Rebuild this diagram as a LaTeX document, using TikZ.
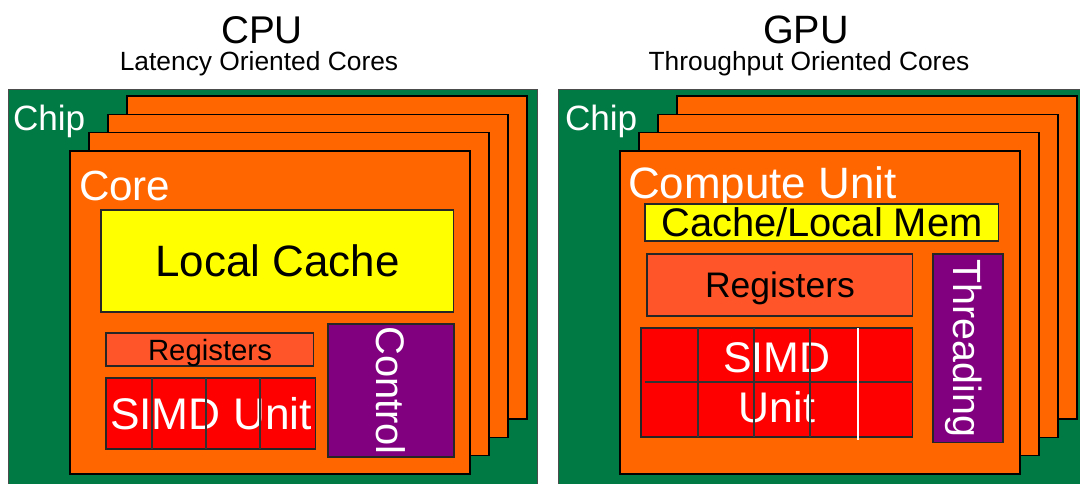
\documentclass[tikz,border=0pt]{standalone}
\usepackage{fontspec}
\setmainfont{Liberation Sans}
\usetikzlibrary{positioning}
\definecolor{chipgreen}{HTML}{007A45}
\definecolor{coreorange}{HTML}{FF6600}
\definecolor{cacheyellow}{HTML}{FFFF00}
\definecolor{regorange}{HTML}{FF5529}
\definecolor{simdred}{HTML}{FF0000}
\definecolor{ctrlpurple}{HTML}{800080}
\newcommand{\setfs}[1]{\fontsize{#1}{#1}\selectfont}

\begin{document}
\begin{tikzpicture}[x=0.02cm,y=-0.02cm,
      every node/.style={inner sep=0pt,outer sep=0pt},
      chipbox/.style={draw=gray!60!black,fill=chipgreen,anchor=north west,minimum height=8.4cm},
      corebox/.style={draw=black,line width=.8pt,fill=coreorange,anchor=north west,minimum width=8cm,minimum height=6.46cm},
      partbox/.style={draw=black!85,line width=.6pt,anchor=north west},
      boxname/.style={anchor=base west,text=white},
      heading/.style={anchor=base},
      sidetext/.style={rotate=-90,text=white}]
      \useasboundingbox (0,0) rectangle (1080,484);
      % titles
      \node[heading,font=\setfs{22pt}] (cpu) at (262,43) {CPU};
      \node[heading,font=\setfs{15pt}] (cpusub) at (259,70.7) {Latency Oriented Cores};
      \node[heading,font=\setfs{22.5pt}] (gpu) at (806,43) {GPU};
      \node[heading,font=\setfs{15pt}] (gpusub) at (809,70.7) {Throughput Oriented Cores};

      % CPU chip with its stack of cores
      \node[chipbox,minimum width=10.58cm] (cpuchip) at (8,89) {};
      \node[boxname,font=\setfs{20pt}] (cpuchiplbl) at (13,130) {Chip};
      \foreach \i in {3,2,1}
        \node[corebox] (cpuback\i) at ({70+19*\i},{151-18.3*\i}) {};
      \node[corebox] (cpucore) at (70,151) {};
      \node[boxname,font=\setfs{24pt}] (cpucorelbl) at (79,200) {Core};
      \node[partbox,fill=cacheyellow,minimum width=7.06cm,minimum height=2.04cm,font=\setfs{25pt}] (cpucache) at (101,210) {Local Cache};
      \node[partbox,fill=regorange,minimum width=4.16cm,minimum height=.66cm,font=\setfs{16.7pt},text depth=0pt] (cpuregs) at (106,333) {Registers};
      \node[partbox,fill=simdred,minimum width=4.2cm,minimum height=1.42cm,text=white,font=\setfs{25.2pt}] (cpusimd) at (106,378) {SIMD Unit};
      \foreach \x in {152,206,260}
        \draw[black!80,line width=.6pt] (\x,378) -- (\x,449);
      \node[partbox,fill=ctrlpurple,minimum width=2.52cm,minimum height=2.66cm] (cpuctrl) at (328,324) {};
      \node[sidetext,font=\setfs{22.7pt}] (cpuctrllbl) at (cpuctrl.center) {Control};

      % GPU chip with its stack of compute units
      \node[chipbox,minimum width=10.8cm] (gpuchip) at (558,89) {};
      \node[boxname,font=\setfs{20pt}] (gpuchiplbl) at (565,130) {Chip};
      \foreach \i in {3,2,1}
        \node[corebox] (gpuback\i) at ({620+19*\i},{151-18.3*\i}) {};
      \node[corebox] (gpucore) at (620,151) {};
      \node[boxname,font=\setfs{25pt}] (gpucorelbl) at (628,198) {Compute Unit};
      \node[partbox,fill=cacheyellow,minimum width=7.08cm,minimum height=.74cm,font=\setfs{22.7pt}] (gpucache) at (645,204) {Cache/Local Mem};
      \node[partbox,fill=regorange,minimum width=5.32cm,minimum height=1.24cm,font=\setfs{20.2pt},text depth=0pt] (gpuregs) at (647,254) {Registers};
      \node[partbox,fill=simdred,minimum width=5.44cm,minimum height=2.18cm,text=white,align=center,
            font={\fontsize{24.4pt}{28.4pt}\selectfont}] (gpusimd) at (641,328) {SIMD\\Unit};
      \foreach \x in {698,754,810}
        \draw[black!80,line width=.6pt] (\x,328) -- (\x,437);
      \draw[black!80,line width=.6pt] (645,382) -- (913,382);
      \draw[white,line width=1pt] (858,328) -- (858,440);
      \node[partbox,fill=ctrlpurple,minimum width=1.4cm,minimum height=3.78cm] (gputhread) at (933,254) {};
      \node[sidetext,font=\setfs{22.4pt},text depth=0pt] (gputhreadlbl) at (gputhread.center) {Threading};
    \end{tikzpicture}
\end{document}
